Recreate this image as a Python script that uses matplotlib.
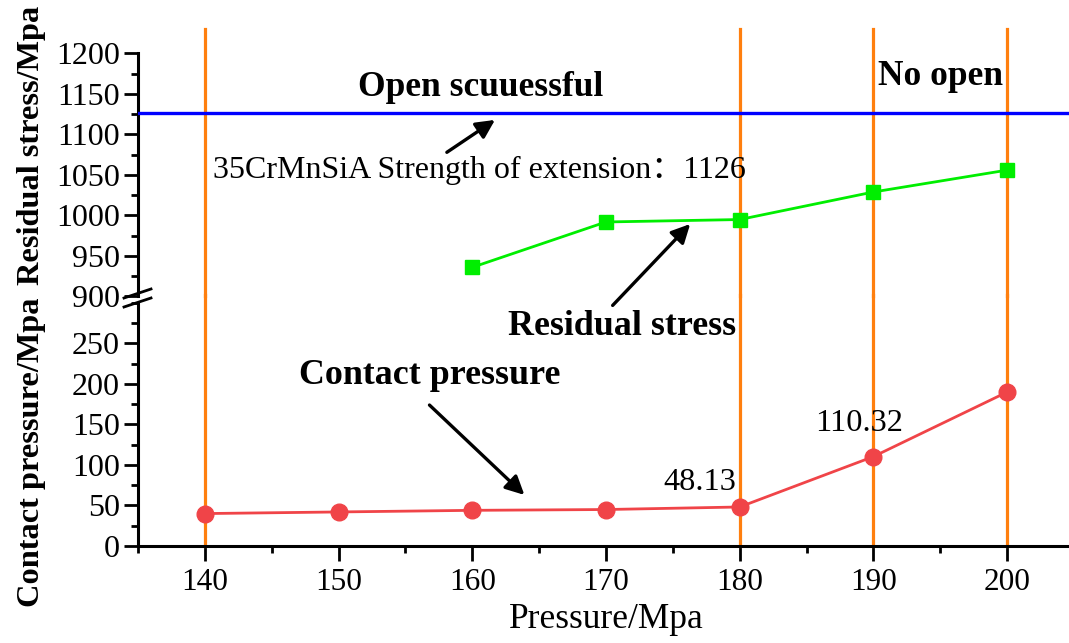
import matplotlib
matplotlib.use("Agg")
import matplotlib.pyplot as plt
from matplotlib.ticker import MultipleLocator
from matplotlib.lines import Line2D

plt.rcParams['font.family'] = ['Liberation Serif', 'Noto Sans CJK SC', 'DejaVu Sans']

# ---- data ----
pressure = [140, 150, 160, 170, 180, 190, 200]
contact_pressure = [40, 42, 44, 45, 48.13, 110.32, 190]
rs_pressure = [160, 170, 180, 190, 200]
residual_stress = [936, 992, 995, 1029, 1056]
tensile_strength = 1126
marker_lines = [140, 180, 190, 200]
x_ticks = [140, 150, 160, 170, 180, 190, 200]
top_ticks = [900, 950, 1000, 1050, 1100, 1150, 1200]
bot_ticks = [0, 50, 100, 150, 200, 250]

ORANGE = '#FF7F0E'
BLUE = '#0000FF'
GREEN = '#00EE00'
RED = '#F04448'

fig = plt.figure(figsize=(10.69, 6.43), dpi=100)
L, W = 0.1291, 0.8755
ax_top = fig.add_axes([L, 0.5389, W, 0.3779])
ax_bot = fig.add_axes([L, 0.1509, W, 0.3779])

for ax in (ax_top, ax_bot):
    ax.set_xlim(135, 205)
    ax.patch.set_alpha(0)
    for s in ('top', 'right'):
        ax.spines[s].set_visible(False)
    ax.spines['left'].set_linewidth(2.2)
    ax.spines['bottom'].set_linewidth(2.2)
    ax.tick_params(axis='both', which='major', direction='out', length=10, width=2.0,
                   labelsize=23, pad=3)
    ax.tick_params(axis='both', which='minor', direction='out', length=5, width=2.0)

# top panel
ax_top.set_ylim(900, 1200)
ax_top.spines['bottom'].set_visible(False)
ax_top.set_yticks(top_ticks)
ax_top.yaxis.set_minor_locator(MultipleLocator(25))
ax_top.set_xticks([])
ax_top.tick_params(axis='x', which='both', bottom=False, labelbottom=False)

# bottom panel
ax_bot.set_ylim(0, 300)
ax_bot.set_yticks(bot_ticks)
ax_bot.yaxis.set_minor_locator(MultipleLocator(25))
ax_bot.set_xticks(x_ticks)
ax_bot.xaxis.set_minor_locator(MultipleLocator(5))
ax_bot.tick_params(axis='x', which='major', length=11, labelsize=22.5, pad=5)

# orange vertical lines
for xv in marker_lines:
    ax_bot.plot([xv, xv], [0, 310], color=ORANGE, lw=2.3, clip_on=False, zorder=2)
    ax_top.plot([xv, xv], [900, 1230], color=ORANGE, lw=2.3, clip_on=False, zorder=2)

# blue strength line
ax_top.axhline(tensile_strength, color=BLUE, lw=2.4, zorder=3)

# series
ax_top.plot(rs_pressure, residual_stress, color=GREEN, lw=2.0, marker='s',
            markersize=10, markerfacecolor=GREEN, markeredgecolor=GREEN, zorder=4)
ax_bot.plot(pressure, contact_pressure, color=RED, lw=2.0, marker='o',
            markersize=12, markerfacecolor=RED, markeredgecolor=RED, zorder=4)

# labels
ax_bot.set_xlabel('Pressure/Mpa', fontsize=25.5)
ax_bot.xaxis.set_label_coords(0.5, -0.235)
fig.text(32/1069, 1-145/643, 'Residual stress/Mpa', rotation=90, fontsize=23.3,
         fontweight='bold', ha='center', va='center')
fig.text(32/1069, 1-452/643, 'Contact pressure/Mpa', rotation=90, fontsize=23.3,
         fontweight='bold', ha='center', va='center')

# annotations
ax_top.text(160.6, 1158, 'Open scuuessful', fontsize=25.5, fontweight='bold',
            ha='center', va='center', zorder=5)
ax_top.text(195.0, 1171, 'No open', fontsize=25.5, fontweight='bold',
            ha='center', va='center', zorder=5)
ax_top.text(140.6, 1055, '35CrMnSiA Strength of extension：1126', fontsize=23,
            ha='left', va='center', zorder=5)
ax_top.annotate('', xy=(161.7, 1118), xytext=(158.1, 1078),
                arrowprops=dict(arrowstyle='-|>', color='black', lw=2.4,
                                mutation_scale=28, shrinkA=0, shrinkB=0))

ax_bot.text(171.2, 271, 'Residual stress', fontsize=25.8, fontweight='bold',
            ha='center', va='center', zorder=5)
ax_top.annotate('', xy=(176.3, 989.5), xytext=(170.5, 297),
                textcoords=ax_bot.transData, annotation_clip=False,
                arrowprops=dict(arrowstyle='-|>', color='black', lw=2.4,
                                mutation_scale=28, shrinkA=0, shrinkB=0))

ax_bot.text(156.8, 211, 'Contact pressure', fontsize=25.8, fontweight='bold',
            ha='center', va='center', zorder=5)
ax_bot.annotate('', xy=(163.9, 63), xytext=(156.8, 174),
                arrowprops=dict(arrowstyle='-|>', color='black', lw=2.4,
                                mutation_scale=28, shrinkA=0, shrinkB=0))

ax_bot.text(177.0, 78, '48.13', fontsize=23.3, ha='center', va='center', zorder=5)
ax_bot.text(188.9, 151.5, '110.32', fontsize=23.3, ha='center', va='center', zorder=5)

# break marks on the left spine
for dy in (0.0, 9.0):
    y0 = 1 - (307 + dy - 9) / 643
    y1 = 1 - (298 + dy - 9) / 643
    fig.add_artist(Line2D([124/1069, 151/1069], [y0, y1], color='black', lw=2.0))

fig.savefig('out.png', dpi=100)
